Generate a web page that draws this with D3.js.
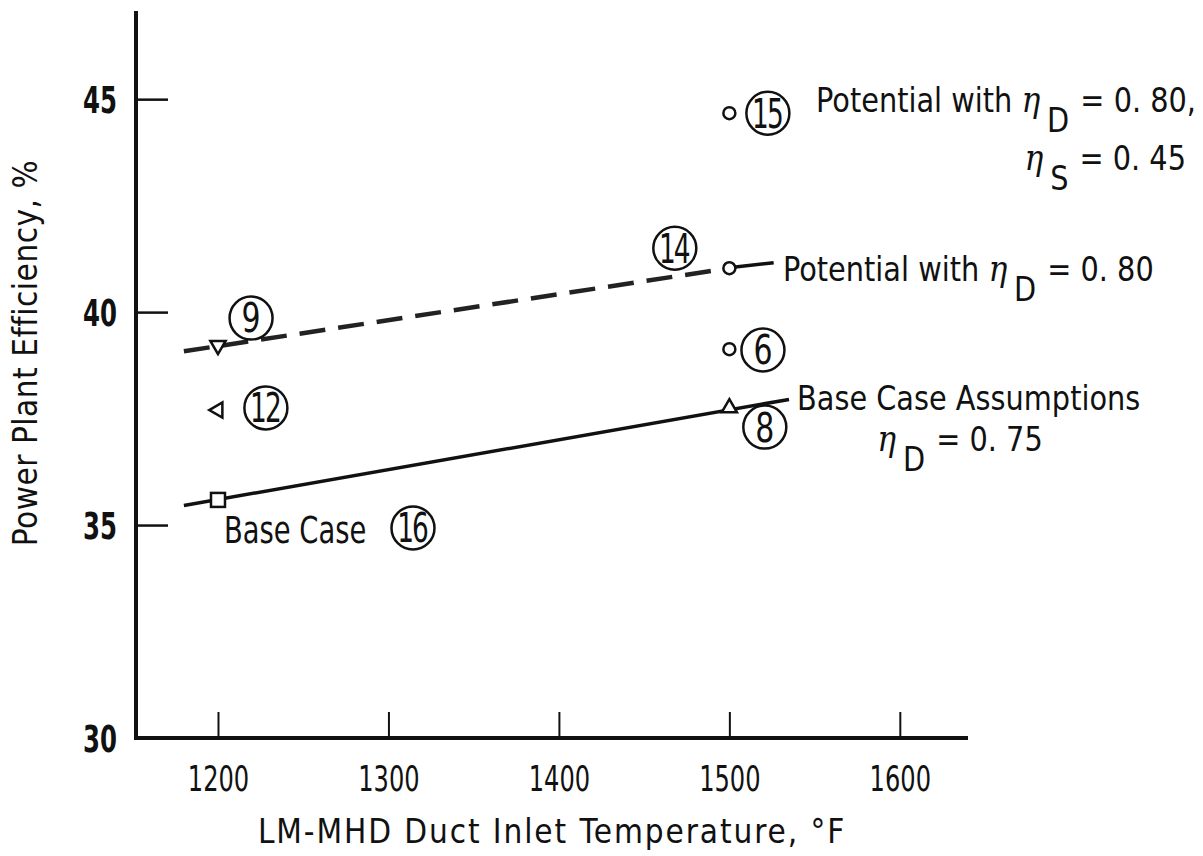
<!doctype html>
<html lang="en">
<head>
<meta charset="utf-8">
<title>Power Plant Efficiency vs Duct Inlet Temperature</title>
<script src="https://d3js.org/d3.v7.min.js"></script>
<style>
  body { margin: 0; background: #fff; }
  svg text { fill: #111; font-family: "DejaVu Sans", sans-serif; }
  .cond, .cond text { font-stretch: condensed; }
</style>
</head>
<body>
<div id="chart"></div>
<script>
// axis setup
var xTicks = [1200, 1300, 1400, 1500, 1600];
var yTicks = [30, 35, 40, 45];

// base case assumptions (solid) eta_D = 0.75
var baseLineX = [1180, 1535];
var baseLineY = [35.46, 37.95];

// potential with eta_D = 0.80 (dashed)
var potLineX = [1180, 1490];
var potLineY = [39.08, 40.97];
var potTailX = [1497, 1526];
var potTailY = [41.03, 41.16];

// plotted points
var ptCircle = [[1500, 44.67], [1500, 41.03], [1500, 39.13]];
var ptTriUp = [[1500, 37.75]];
var ptTriDown = [[1200, 39.22]];
var ptTriLeft = [[1200, 37.7]];
var ptSquare = [[1200, 35.59]];

// circled case numbers
var caseNums = ["15", "14", "9", "6", "12", "8", "16"];
var caseX = [1522.6, 1468, 1219.4, 1519.7, 1228.1, 1520.8, 1314.4];
var caseY = [44.67, 41.5, 39.86, 39.11, 37.75, 37.3, 34.93];

var W = 1203, H = 856;

var x = d3.scaleLinear().domain([1151.9, 1640]).range([136, 968]);
var y = d3.scaleLinear().domain([30, 47.07]).range([738, 11]);

var svg = d3.select("#chart").append("svg")
    .attr("width", W).attr("height", H);

// squeeze text horizontally (the original lettering is condensed)
function squeeze(sel, tx, ty, sx) {
    sel.attr("x", 0).attr("y", 0)
       .attr("transform", "translate(" + tx + "," + ty + ") scale(" + sx + ",1)");
}

// y axis (ticks point inward)
var yAxis = svg.append("g")
    .attr("transform", "translate(136,0)")
    .call(d3.axisRight(y).tickValues(yTicks).tickSize(32).tickFormat(d3.format("d")));
yAxis.select(".domain").remove();
yAxis.selectAll(".tick line").attr("stroke", "#111").attr("stroke-width", 2.5);
yAxis.selectAll(".tick text")
    .attr("text-anchor", "end")
    .attr("dy", "0.36em")
    .style("font-size", "37px").style("font-weight", "bold")
    .call(squeeze, -19, 0, 0.66);

// x axis
var xAxis = svg.append("g")
    .attr("transform", "translate(0,738)")
    .call(d3.axisTop(x).tickValues(xTicks).tickSize(26).tickFormat(d3.format("d")));
xAxis.select(".domain").remove();
xAxis.selectAll(".tick line").attr("stroke", "#111").attr("stroke-width", 2);
xAxis.selectAll(".tick text")
    .attr("dy", "0.36em")
    .style("font-size", "35px")
    .call(squeeze, 0, 40, 0.69);

// axis lines
svg.append("path")
    .attr("d", "M" + x(1151.9) + "," + y(47.07) + "V" + y(30) + "H" + x(1640))
    .attr("fill", "none").attr("stroke", "#111").attr("stroke-width", 4);

// axis titles
svg.append("text").attr("class", "cond")
    .attr("transform", "translate(37,353) rotate(-90)")
    .attr("text-anchor", "middle")
    .style("font-size", "33px")
    .style("letter-spacing", "0.5px")
    .text("Power Plant Efficiency, %");

svg.append("text").attr("class", "cond")
    .attr("x", 552).attr("y", 843)
    .attr("text-anchor", "middle")
    .style("font-size", "33px")
    .style("letter-spacing", "1.9px")
    .text("LM-MHD Duct Inlet Temperature, \u00B0F");

var line = d3.line().x(function(d) { return x(d[0]); }).y(function(d) { return y(d[1]); });

svg.append("path")
    .datum(d3.zip(baseLineX, baseLineY))
    .attr("d", line)
    .attr("fill", "none").attr("stroke", "#111").attr("stroke-width", 3.5);

svg.append("path")
    .datum(d3.zip(potLineX, potLineY))
    .attr("d", line)
    .attr("fill", "none").attr("stroke", "#222").attr("stroke-width", 4.5)
    .attr("stroke-dasharray", "26,13");

svg.append("path")
    .datum(d3.zip(potTailX, potTailY))
    .attr("d", line)
    .attr("fill", "none").attr("stroke", "#111").attr("stroke-width", 3.5);

// markers
var markers = svg.append("g").attr("fill", "#fff").attr("stroke", "#111").attr("stroke-width", 2.5);

markers.selectAll(".c").data(ptCircle).enter().append("circle")
    .attr("cx", function(d) { return x(d[0]); })
    .attr("cy", function(d) { return y(d[1]); })
    .attr("r", 6);

markers.selectAll(".s").data(ptSquare).enter().append("rect")
    .attr("x", function(d) { return x(d[0]) - 7; })
    .attr("y", function(d) { return y(d[1]) - 7; })
    .attr("width", 14).attr("height", 14);

var tri = d3.symbol().type(d3.symbolTriangle).size(100)();
markers.selectAll(".tu").data(ptTriUp).enter().append("path")
    .attr("d", tri)
    .attr("transform", function(d) { return "translate(" + x(d[0]) + "," + y(d[1]) + ")"; });
markers.selectAll(".td").data(ptTriDown).enter().append("path")
    .attr("d", tri)
    .attr("transform", function(d) { return "translate(" + x(d[0]) + "," + y(d[1]) + ") rotate(180)"; });
markers.selectAll(".tl").data(ptTriLeft).enter().append("path")
    .attr("d", tri)
    .attr("transform", function(d) { return "translate(" + x(d[0]) + "," + y(d[1]) + ") rotate(-90)"; });

// circled case numbers
var cases = svg.append("g").selectAll("g").data(caseNums).enter().append("g")
    .attr("transform", function(d, i) { return "translate(" + x(caseX[i]) + "," + y(caseY[i]) + ")"; });
cases.append("circle").attr("r", 21.5).attr("fill", "#fff")
    .attr("stroke", "#111").attr("stroke-width", 2.5);
cases.append("text")
    .attr("text-anchor", "middle").attr("dy", "0.36em")
    .style("font-size", "40px")
    .style("letter-spacing", function(d) { return d.length > 1 ? "-3px" : "0"; })
    .attr("transform", function(d) { return d.length > 1 ? "translate(-1,0) scale(0.66,1)" : "scale(0.75,1)"; })
    .text(function(d) { return d; });

// annotations
var ann = svg.append("g").attr("class", "cond").style("font-size", "33px");

function etaText(g, xx, yy, anchor, pre, sub, post) {
    var t = g.append("text").attr("text-anchor", anchor)
        .attr("transform", "translate(" + xx + "," + yy + ") scale(0.97,1)");
    t.append("tspan").text(pre);
    t.append("tspan").style("font-family", "DejaVu Serif, serif").style("font-style", "italic")
        .style("font-size", "36px").text("\u03B7");
    t.append("tspan").attr("dy", 20).attr("dx", 7).text(sub);
    t.append("tspan").attr("dy", -20).attr("dx", 2).text(post);
    return t;
}

etaText(ann, 1196, 112, "end", "Potential with ", "D", " = 0. 80,");
etaText(ann, 1186, 170, "end", "", "S", " = 0. 45");
etaText(ann, 783, 281, "start", "Potential with ", "D", " = 0. 80");
ann.append("text").text("Base Case Assumptions")
    .attr("transform", "translate(797,410) scale(0.97,1)");
etaText(ann, 960, 451, "middle", "", "D", " = 0. 75");
ann.append("text").text("Base Case")
    .style("font-size", "38px")
    .attr("transform", "translate(224,543) scale(0.8,1)");
</script>
</body>
</html>
